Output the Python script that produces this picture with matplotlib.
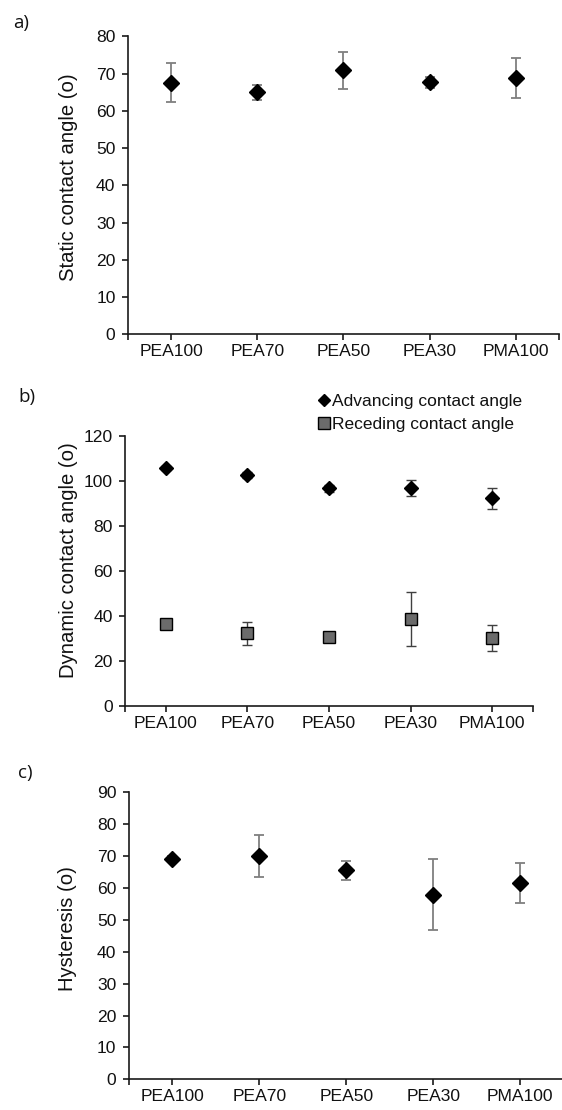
import matplotlib
matplotlib.use("Agg")
import matplotlib.pyplot as plt
from matplotlib.ticker import FixedLocator
from matplotlib.lines import Line2D

plt.rcParams['font.family'] = ['Liberation Sans', 'DejaVu Sans']

categories = ['PEA100', 'PEA70', 'PEA50', 'PEA30', 'PMA100']
static_mean = [67.6, 65.0, 70.9, 67.7, 68.9]
static_err = [5.2, 2.0, 5.0, 1.5, 5.3]
adv_mean = [105.6, 102.4, 96.7, 96.7, 92.2]
adv_err = [0.8, 1.3, 1.6, 3.5, 4.8]
rec_mean = [36.2, 32.2, 30.8, 38.5, 30.3]
rec_err = [0.8, 5.2, 0.8, 11.9, 5.7]
hyst_mean = [69.2, 70.0, 65.5, 57.9, 61.5]
hyst_err = [0.9, 6.6, 3.0, 11.1, 6.2]

W, H = 562, 1110
fig = plt.figure(figsize=(W / 100, H / 100), dpi=100)


def px_axes(left, right, top, bottom):
    return fig.add_axes([left / W, (H - bottom) / H, (right - left) / W, (bottom - top) / H])


def style(ax, ymax, ystep, ylabel, lab_xy):
    xs = [i + 0.5 for i in range(len(categories))]
    ax.set_xlim(0, len(categories))
    ax.set_ylim(0, ymax)
    ax.set_xticks(xs)
    ax.set_xticklabels(categories)
    ax.xaxis.set_minor_locator(FixedLocator([0, len(categories)]))
    ax.set_yticks(range(0, ymax + 1, ystep))
    for s in ['top', 'right']:
        ax.spines[s].set_visible(False)
    for s in ['left', 'bottom']:
        ax.spines[s].set_linewidth(1.2)
        ax.spines[s].set_color('#1a1a1a')
    ax.tick_params(axis='both', which='both', direction='out', length=4, width=1.2,
                   color='#1a1a1a', labelsize=12.6, labelcolor='#111111')
    ax.tick_params(axis='y', pad=5)
    ax.tick_params(axis='x', pad=3)
    ax.set_ylabel(ylabel, fontsize=14.6, color='#111111', ha='center', va='center')
    ax.yaxis.set_label_coords(*lab_xy)
    return xs


# Panel a
ax1 = px_axes(128, 558.8, 36.5, 334.3)
xs = style(ax1, 80, 10, 'Static contact angle (o)', (-0.139, 0.529))
ax1.errorbar(xs, static_mean, yerr=static_err, fmt='D', color='black', ms=8,
             ecolor='#7f7f7f', elinewidth=1.3, capsize=3.5, capthick=1.3, zorder=3)

# Panel b
ax2 = px_axes(125, 533, 435.7, 706)
xs = style(ax2, 120, 20, 'Dynamic contact angle (o)', (-0.1397, 0.540))
ax2.errorbar(xs, adv_mean, yerr=adv_err, fmt='D', color='black', ms=7.5,
             ecolor='#404040', elinewidth=1.0, capsize=3.5, capthick=1.0, zorder=3)
ax2.errorbar(xs, rec_mean, yerr=rec_err, fmt='s', mfc='#6b6b6b', mec='black', mew=1.0,
             ms=8.5, ecolor='#404040', elinewidth=1.0, capsize=3.5, capthick=1.0, zorder=3)
lh1 = Line2D([], [], ls='none', marker='D', color='black', ms=6.5)
lh2 = Line2D([], [], ls='none', marker='s', mfc='#6b6b6b', mec='black', mew=1.0, ms=8)
fig.legend([lh1, lh2], ['Advancing contact angle', 'Receding contact angle'],
           loc='upper left', bbox_to_anchor=(319 / W, (H - 394) / H), frameon=False,
           fontsize=12.5, handlelength=0.6, handletextpad=0.15, borderpad=0,
           borderaxespad=0, labelspacing=0.42, labelcolor='#111111')

# Panel c
ax3 = px_axes(128.8, 563.8, 792.3, 1079.3)
xs = style(ax3, 90, 10, 'Hysteresis (o)', (-0.1398, 0.524))
ax3.errorbar(xs, hyst_mean, yerr=hyst_err, fmt='D', color='black', ms=8,
             ecolor='#7f7f7f', elinewidth=1.3, capsize=3.5, capthick=1.3, zorder=3)

# Panel labels
for lab, (x, y) in zip(['a)', 'b)', 'c)'], [(13, 23), (18, 397), (18, 773)]):
    fig.text(x / W, (H - y) / H, lab, fontsize=13.5, family=['Open Sans', 'DejaVu Sans'],
             ha='left', va='center', color='#111111')

fig.savefig('out.png', dpi=100)
